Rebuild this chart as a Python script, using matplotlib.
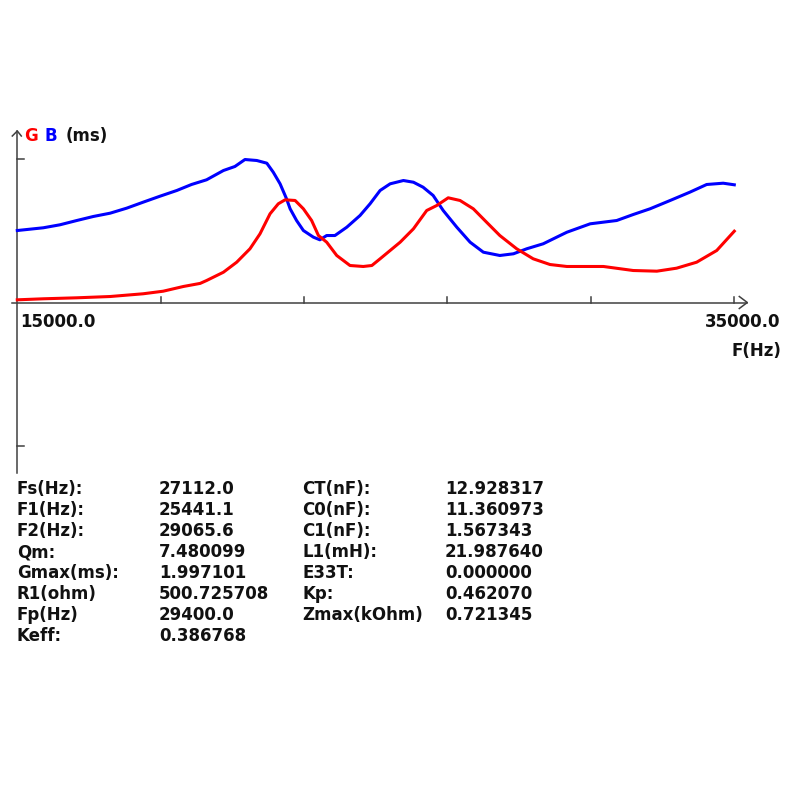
#!/usr/bin/env python3
"""Admittance plot (G, B vs frequency) with resonance parameter table."""

import matplotlib
matplotlib.use("Agg")
import matplotlib.pyplot as plt

# --- data ------------------------------------------------------------------
freq_b = [15000, 15725, 16190, 16660, 17120, 17590, 18050, 18510, 18980, 19450,
          19860, 20280, 20750, 21070, 21350, 21680, 21960, 22140, 22330, 22510,
          22610, 22790, 22980, 23260, 23440, 23630, 23860, 24190, 24560, 24840,
          25120, 25400, 25770, 26050, 26320, 26600, 26880, 27260, 27630, 28000,
          28460, 28840, 29210, 29670, 30140, 30330, 30980, 31720, 32180, 32650,
          33210, 33760, 34230, 34690, 35000]
b_ms = [1.395, 1.448, 1.506, 1.589, 1.667, 1.731, 1.828, 1.944, 2.060, 2.171,
        2.287, 2.378, 2.558, 2.636, 2.771, 2.752, 2.700, 2.525, 2.300, 2.010,
        1.816, 1.589, 1.395, 1.266, 1.215, 1.298, 1.298, 1.459, 1.686, 1.913,
        2.171, 2.300, 2.364, 2.331, 2.234, 2.074, 1.783, 1.459, 1.169, 0.975,
        0.911, 0.944, 1.041, 1.138, 1.298, 1.362, 1.525, 1.589, 1.705, 1.816,
        1.977, 2.138, 2.287, 2.312, 2.281]

freq_g = [15000, 15730, 16660, 17590, 18510, 19070, 19630, 20100, 20280, 20750,
          21120, 21490, 21770, 22050, 22280, 22470, 22750, 22980, 23210, 23400,
          23630, 23910, 24280, 24650, 24890, 25120, 25680, 26050, 26420, 26700,
          27020, 27350, 27720, 28090, 28460, 28930, 29390, 29860, 30330, 31350,
          32180, 32840, 33390, 33950, 34510, 35000]
g_ms = [0.052, 0.072, 0.091, 0.116, 0.169, 0.219, 0.310, 0.370, 0.426, 0.587,
        0.781, 1.041, 1.331, 1.719, 1.913, 1.990, 1.977, 1.816, 1.589, 1.298,
        1.169, 0.911, 0.717, 0.698, 0.717, 0.847, 1.169, 1.428, 1.783, 1.880,
        2.029, 1.977, 1.816, 1.556, 1.298, 1.041, 0.847, 0.736, 0.698, 0.698,
        0.620, 0.607, 0.665, 0.781, 1.008, 1.382]

x_ticks = [19000, 23000, 27000, 31000, 35000]
y_ticks = [2.78, -2.78]
f_min, f_max = 15000, 35000

labels_left = ["Fs(Hz):", "F1(Hz):", "F2(Hz):", "Qm:", "Gmax(ms):",
               "R1(ohm)", "Fp(Hz)", "Keff:"]
values_left = ["27112.0", "25441.1", "29065.6", "7.480099", "1.997101",
               "500.725708", "29400.0", "0.386768"]
labels_right = ["CT(nF):", "C0(nF):", "C1(nF):", "L1(mH):", "E33T:",
                "Kp:", "Zmax(kOhm)"]
values_right = ["12.928317", "11.360973", "1.567343", "21.987640", "0.000000",
                "0.462070", "0.721345"]

# --- geometry (pixels of the 800x800 canvas) -------------------------------
W = H = 800
X0_PX, Y0_PX = 17.3, 302.5          # origin of the plot axes
PX_PER_HZ = 717 / 20000
PX_PER_MS = 51.6
AXIS_COL = "#404040"

fig = plt.figure(figsize=(8, 8), dpi=100)
ax = fig.add_axes([0, 0, 1, 1])
ax.set_xlim(f_min - X0_PX / PX_PER_HZ, f_min + (W - X0_PX) / PX_PER_HZ)
ax.set_ylim(-(H - Y0_PX) / PX_PER_MS, Y0_PX / PX_PER_MS)
ax.axis("off")


def hz(px):
    return px / PX_PER_HZ


def ms(px):
    return px / PX_PER_MS


# axes lines with small arrow heads
ax.plot([f_min - hz(5), f_max + hz(13)], [0, 0], color=AXIS_COL, lw=1.1)
ax.plot([f_max + hz(5), f_max + hz(13), f_max + hz(5)],
        [ms(6), 0, -ms(6)], color=AXIS_COL, lw=1.1)
y_top, y_bot = ms(Y0_PX - 131), -ms(473 - Y0_PX)
ax.plot([f_min, f_min], [y_bot, y_top], color=AXIS_COL, lw=1.1)
ax.plot([f_min - hz(5), f_min, f_min + hz(4)],
        [y_top - ms(5), y_top, y_top - ms(5)], color=AXIS_COL, lw=1.1)

for t in x_ticks:
    ax.plot([t, t], [0, ms(6)], color=AXIS_COL, lw=1.1)
for t in y_ticks:
    ax.plot([f_min, f_min + hz(7)], [t, t], color=AXIS_COL, lw=1.1)

# curves
ax.plot(freq_b, b_ms, color="#0000ff", lw=2.2, solid_joinstyle="round")
ax.plot(freq_g, g_ms, color="#ff0000", lw=2.2, solid_joinstyle="round")


# --- text --------------------------------------------------------------------
def put(px, py, s, color="#111111", ha="left"):
    fig.text(px / W, 1 - py / H, s, color=color, ha=ha, va="center",
             fontsize=12, fontweight="bold", family="DejaVu Sans")


put(24, 136, "G", color="#ff0000")
put(45, 136, "B", color="#0000ff")
put(66, 136, "(ms)")
put(20, 322, "%.1f" % f_min)
put(780, 322, "%.1f" % f_max, ha="right")
put(781, 351, "F(Hz)", ha="right")

for i, (lab, val) in enumerate(zip(labels_left, values_left)):
    put(17, 489 + 21 * i, lab)
    put(159, 489 + 21 * i, val)
for i, (lab, val) in enumerate(zip(labels_right, values_right)):
    put(302, 489 + 21 * i, lab)
    put(445, 489 + 21 * i, val)

fig.savefig("out.png", dpi=100)
plt.close(fig)
